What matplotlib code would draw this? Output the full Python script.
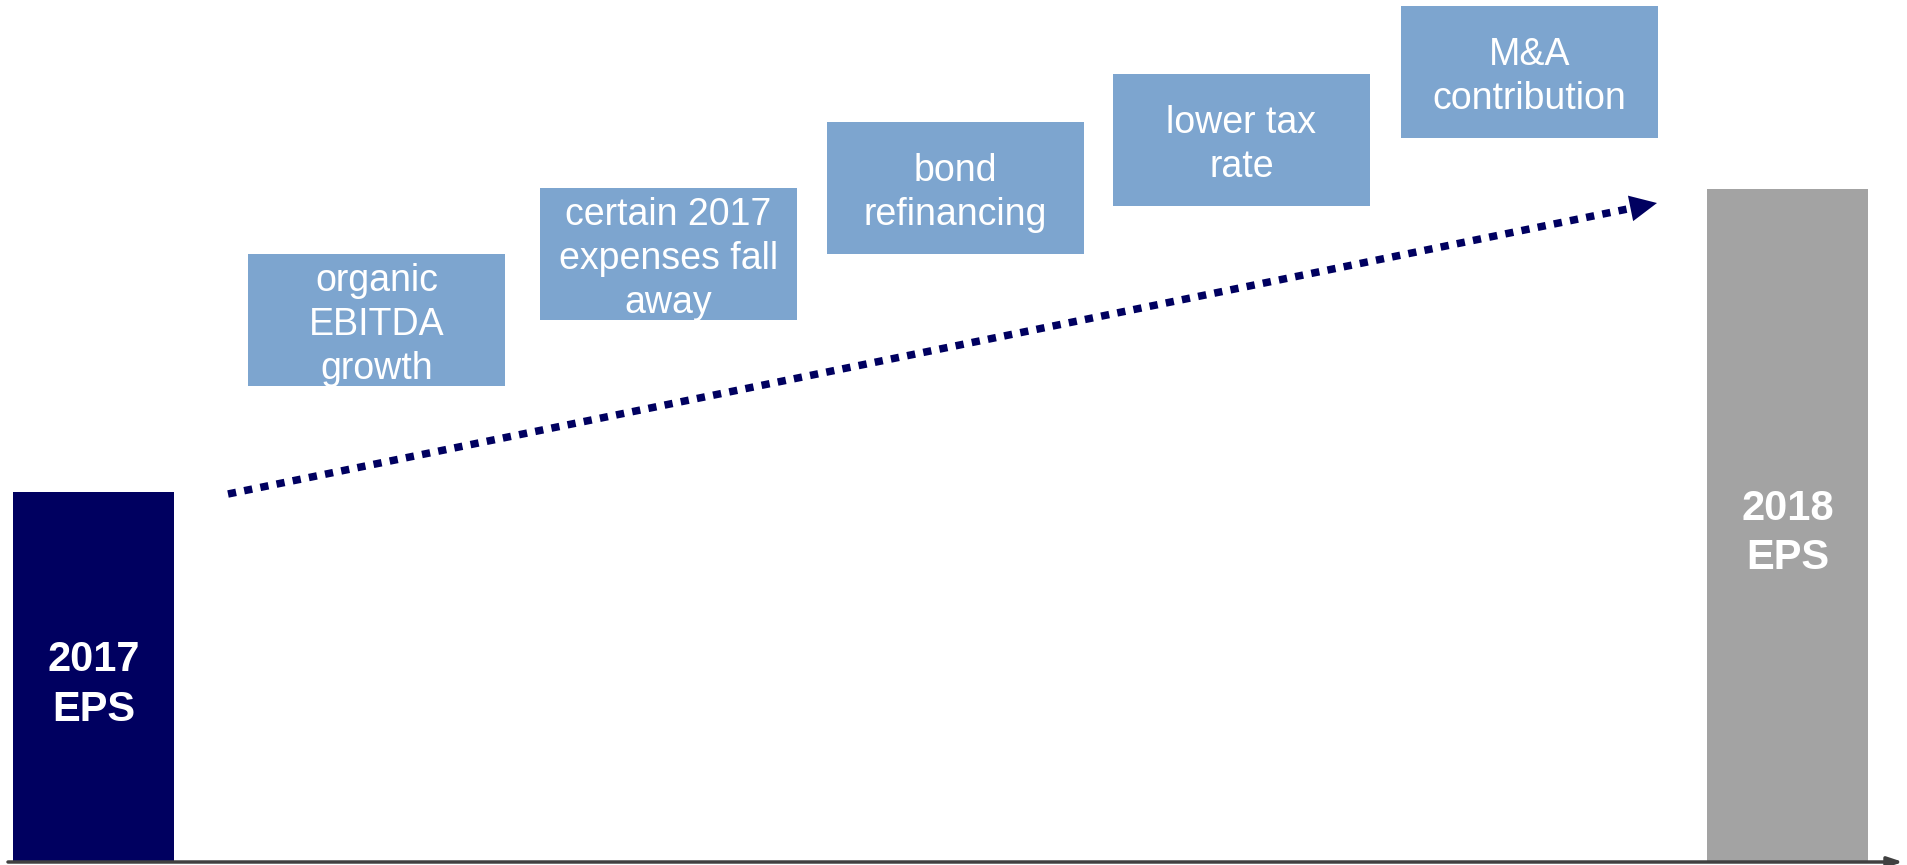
import numpy as np
import matplotlib

matplotlib.use("Agg")
import matplotlib.pyplot as plt
from matplotlib import patches

plt.rcParams["font.family"] = ["Liberation Sans", "DejaVu Sans"]

# ---- data ----
eps_labels = ["2017\nEPS", "2018\nEPS"]
eps_values = [370, 673]          # bar heights (arbitrary units, baseline = 0)
eps_x = [93.5, 1787.5]           # bar centres
eps_colors = ["#000060", "#a3a3a3"]

drivers = [
    "organic\nEBITDA\ngrowth",
    "certain 2017\nexpenses fall\naway",
    "bond\nrefinancing",
    "lower tax\nrate",
    "M&A\ncontribution",
]
driver_left = [248, 540, 827, 1113, 1401]
driver_bottom = [476, 542, 608, 656, 724]

BOX_W, BOX_H = 257, 132
BAR_W = 161
BOX_COLOR = "#7da5cf"
NAVY = "#000060"

fig = plt.figure(figsize=(19.08, 8.65), dpi=100)
ax = fig.add_axes([0, 0, 1, 1])
ax.set_xlim(0, 1908)
ax.set_ylim(-3, 862)
ax.axis("off")

# bars
bars = ax.bar(eps_x, eps_values, width=BAR_W, color=eps_colors, zorder=2)
for b, lab in zip(bars, eps_labels):
    ax.text(b.get_x() + b.get_width() / 2, b.get_height() / 2 - 8, lab,
            ha="center", va="center", color="white", fontsize=30,
            fontweight="bold", linespacing=1.3, zorder=3)

# baseline with arrow
ax.annotate("", xy=(1903, 0), xytext=(8, 0),
            arrowprops=dict(arrowstyle="-|>,head_length=0.9,head_width=0.3",
                            color="#404040", lw=2.5, shrinkA=0, shrinkB=0),
            zorder=4)

# driver boxes
for txt, x0, y0 in zip(drivers, driver_left, driver_bottom):
    ax.add_patch(patches.Rectangle((x0, y0), BOX_W, BOX_H, facecolor=BOX_COLOR,
                                   edgecolor="none", zorder=2))
    ax.text(x0 + BOX_W / 2, y0 + BOX_H / 2 - 5, txt, ha="center", va="center",
            color="white", fontsize=27, linespacing=1.3, zorder=3)

# dotted trend arrow
x1, y1 = 228, 368
x2, y2 = 1657, 659
d = np.array([x2 - x1, y2 - y1], dtype=float)
u = d / np.linalg.norm(d)
n = np.array([-u[1], u[0]])
head_len, head_half = 27, 13
base = np.array([x2, y2]) - u * head_len
ax.plot([x1, base[0]], [y1, base[1]], color=NAVY, lw=5.4,
        linestyle=(0, (1.1, 1.1)), solid_capstyle="butt",
        dash_capstyle="butt", zorder=3)
tri = [(x2, y2), tuple(base + n * head_half), tuple(base - n * head_half)]
ax.add_patch(patches.Polygon(tri, closed=True, facecolor=NAVY,
                             edgecolor="none", zorder=3))

fig.savefig("out.png", dpi=100, facecolor="white")
